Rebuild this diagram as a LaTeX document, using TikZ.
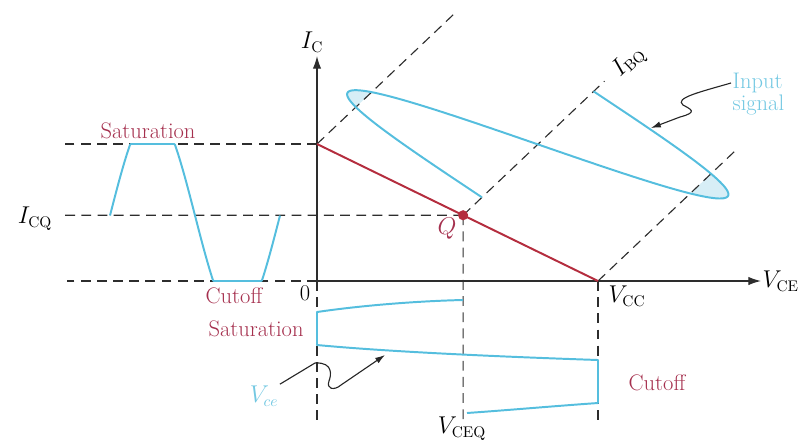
\documentclass[tikz,border=0pt]{standalone}
\usepackage{tikz}
\usetikzlibrary{arrows.meta, positioning, calc}

\definecolor{sigcyan}{RGB}{85,190,222}
\definecolor{sigfill}{RGB}{215,238,246}
\definecolor{lblcyan}{RGB}{115,200,226}
\definecolor{loadred}{RGB}{180,45,62}
\definecolor{lblred}{RGB}{165,48,78}
\definecolor{dashgray}{RGB}{45,45,45}

% input signal: a along the I_BQ line, b along the load line
\newcommand{\insigx}[1]{463.1+0.725*#1-161.8*sin(2.3377*(#1-26))}
\newcommand{\insigy}[1]{215.2-0.688*#1-78.84*sin(2.3377*(#1-26))}

\begin{document}
\begin{tikzpicture}[
    x=0.025cm, y=-0.025cm,
    >=Latex,
    guide/.style={draw=dashgray, line width=0.8pt, dash pattern=on 7pt off 4.5pt},
    axis/.style={draw=dashgray, line width=0.9pt, -{Latex[length=9pt,width=6pt]}},
    ptr/.style={draw=black!85, line width=0.8pt, -{Latex[length=7pt,width=4.5pt]}},
    sig/.style={draw=sigcyan, line width=1.4pt, line join=round},
    load/.style={draw=loadred, line width=1.4pt},
    lbl/.style={font=\fontsize{16}{18}\selectfont, inner sep=1pt},
    redlbl/.style={lbl, text=lblred},
    cyanlbl/.style={lbl, text=lblcyan}
  ]
  \useasboundingbox (0,0) rectangle (804,443);

  % operating points
  \coordinate (O) at (317,281);
  \coordinate (Isat) at (317,144);
  \coordinate (Vcc) at (598,281);
  \coordinate (Q) at ($(Isat)!0.52!(Vcc)$);
  \coordinate (xtip) at (761,281);
  \coordinate (ytip) at (317,56);

  % clipped tips of the input signal
  \begin{scope}
    \clip (317,144) -- (476.5,-7.4) -- (422.6,-33.7) -- (263.1,117.7) -- cycle;
    \fill[sigfill] plot[domain=26:103, samples=60, variable=\t] ({\insigx{\t}},{\insigy{\t}}) -- cycle;
  \end{scope}
  \begin{scope}
    \clip (598,281) -- (757.5,129.6) -- (811.4,155.9) -- (651.9,307.3) -- cycle;
    \fill[sigfill] plot[domain=103:180, samples=60, variable=\t] ({\insigx{\t}},{\insigy{\t}}) -- cycle;
  \end{scope}

  % load-line family
  \draw[guide] (Isat) -- ++(139.2,-132.1);
  \draw[guide] (Q) -- ++(141.3,-134.1);
  \draw[guide] (Vcc) -- ++(139.2,-132.1);
  \node[lbl, rotate=43.5] (ibq) at (629,62) {$I_{\mathrm{BQ}}$};
  \draw[sig] plot[domain=26:180, samples=140, variable=\t] ({\insigx{\t}},{\insigy{\t}});
  \coordinate (sigtip) at (651,128);

  % axes and guide lines
  \draw[axis] (O) -- (xtip);
  \draw[axis] (O) -- (ytip);
  \draw[guide] (Isat) -- (60,144);
  \draw[guide] (Q) -- (60,215.2);
  \draw[guide] (O) -- (67,281);
  \draw[guide] (O) -- (317,420);
  \draw[guide] (Q) -- (463.1,420);
  \draw[guide] (Vcc) -- (598,422);

  % load line
  \draw[load] (Isat) -- (Vcc);
  \fill[loadred] (Q) circle (3.6pt);

  % collector current
  \draw[sig] plot[domain=110:280, samples=171, variable=\t]
    (\t,{max(144, min(281, 215.5 - 105*sin(2.1176*(\t-110))))});

  % collector-emitter voltage
  \draw[sig] (463,300) .. controls (420,301) and (365,305) .. (317,312) -- (317,345)
    .. controls (380,351) and (480,356) .. (598,360) -- (598,403)
    .. controls (555,406) and (510,410) .. (467,413);

  % labels
  \node[lbl] (ic) at (312,42) {$I_{\mathrm{C}}$};
  \node[lbl, anchor=west] (vce) at (xtip) {$V_{\mathrm{CE}}$};
  \node[lbl] (icq) at (35,219) {$I_{\mathrm{CQ}}$};
  \node[lbl] (zero) at (305,293) {0};
  \node[lbl] (vcclbl) at (627,296) {$V_{\mathrm{CC}}$};
  \node[lbl] (vceq) at (462,429) {$V_{\mathrm{CEQ}}$};
  \node[redlbl] (qlbl) at (447,229) {$Q$};
  \node[redlbl] (sat1) at (148,131) {Saturation};
  \node[redlbl] (cut1) at (234,296) {Cutoff};
  \node[redlbl] (sat2) at (256,329) {Saturation};
  \node[redlbl] (cut2) at (657,383) {Cutoff};
  \node[cyanlbl, anchor=west] (inp) at (731,83) {Input};
  \node[cyanlbl, anchor=west] (sgl) at (731,105) {signal};
  \node[cyanlbl] (vsig) at (264,396) {$V_{ce}$};

  % pointers
  \coordinate (vcetip) at (385,355);
  \draw[ptr] (inp.west) .. controls (700,92) and (674,98) .. (683,105)
    .. controls (690,109) and (699,112) .. (680,117) -- (sigtip);
  \draw[ptr] (vsig.north east) -- (315,363) .. controls (334,362) and (331,376) .. (329,381)
    .. controls (326,389) and (334,391) .. (341,385) -- (vcetip);
\end{tikzpicture}
\end{document}
